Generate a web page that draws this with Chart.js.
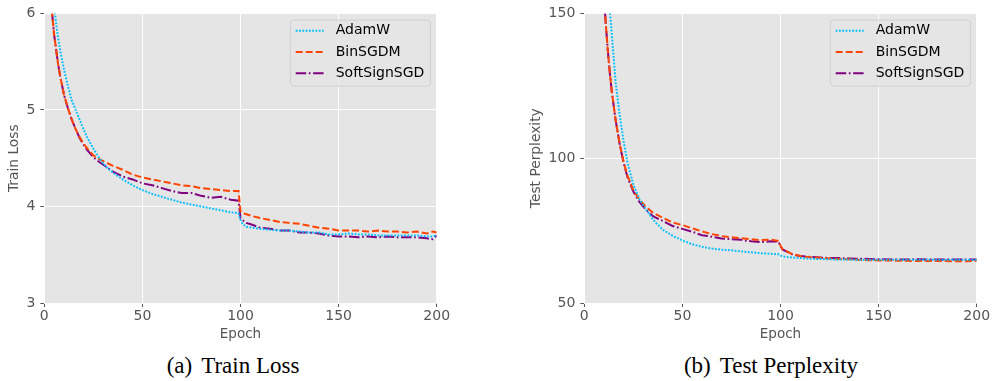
<!DOCTYPE html>
<html>
<head>
<meta charset="utf-8">
<script src="https://cdn.jsdelivr.net/npm/chart.js@4.4.0/dist/chart.umd.min.js"></script>
<style>
  body { margin: 0; background: #fff; width: 994px; height: 381px; position: relative; overflow: hidden; }
  canvas { position: absolute; top: 0; }
  #lossChart { left: 0; }
  #pplChart { left: 520px; }
  .caption { position: absolute; top: 353px; font-family: "Liberation Serif", serif; font-size: 23px; line-height: 26px; color: #000; text-align: center; white-space: nowrap; }
</style>
</head>
<body>
<canvas id="lossChart" width="460" height="345"></canvas>
<canvas id="pplChart" width="474" height="345"></canvas>
<div class="caption" style="left:133px;width:200px">(a)<span style="padding-left:9px">Train Loss</span></div>
<div class="caption" style="left:671px;width:200px">(b)<span style="padding-left:9px">Test Perplexity</span></div>
<script>
// ---- train loss (left panel)
var lossEpochs = [3,4,5,6,7,8,10,12,14,16,18,20,22,25,28,31,35,40,45,50,55,60,65,70,75,80,85,90,95,99,
  100,101,103,106,110,115,120,125,130,135,140,145,150,155,160,165,170,175,180,185,190,195,198,200];
var lossAdamW = [7.0,6.45,6.08,5.9,5.75,5.63,5.42,5.25,5.10,5.00,4.90,4.80,4.71,4.60,4.50,4.42,4.35,4.28,4.22,4.17,4.13,4.10,4.07,4.04,4.02,4.00,3.98,3.96,3.94,3.93,
  3.86,3.82,3.79,3.78,3.77,3.76,3.75,3.75,3.74,3.73,3.73,3.71,3.71,3.72,3.71,3.71,3.70,3.70,3.70,3.70,3.70,3.69,3.69,3.70];
var lossBinSGDM = [6.35,6.0,5.78,5.63,5.48,5.36,5.16,5.02,4.90,4.80,4.72,4.65,4.60,4.53,4.49,4.46,4.42,4.38,4.33,4.30,4.28,4.26,4.24,4.22,4.21,4.19,4.18,4.17,4.16,4.16,
  3.95,3.93,3.92,3.90,3.88,3.86,3.84,3.83,3.82,3.80,3.78,3.77,3.75,3.75,3.75,3.74,3.75,3.74,3.74,3.73,3.74,3.72,3.74,3.73];
var lossSoftSign = [6.35,6.0,5.78,5.63,5.48,5.36,5.16,5.02,4.90,4.80,4.71,4.64,4.58,4.51,4.46,4.42,4.36,4.31,4.28,4.24,4.22,4.19,4.16,4.14,4.14,4.11,4.09,4.10,4.07,4.06,
  3.88,3.86,3.83,3.81,3.78,3.77,3.75,3.75,3.73,3.73,3.72,3.70,3.69,3.69,3.68,3.69,3.68,3.69,3.68,3.68,3.68,3.67,3.66,3.70];

// ---- test perplexity (right panel)
var pplEpochs = [8,9,10,11,12,13,14,16,18,20,22,25,28,31,35,40,45,50,55,60,65,70,75,80,85,90,95,99,
  100,101,103,106,110,115,120,125,130,135,140,145,150,160,170,180,190,200];
var pplAdamW = [240,215,193,175,161,151,143,126,115,106,98.5,90.8,86,82.8,78.8,75.3,73.2,71.6,70.3,69.4,68.8,68.4,68.2,67.8,67.5,67.2,67.0,66.8,
  66.4,66.1,65.9,65.7,65.5,65.3,65.2,65.1,65.0,65.0,64.9,64.9,64.9,64.9,64.9,64.9,64.9,64.9];
var pplBinSGDM = [180,168,156,146,137,129.5,123,113,105,98.8,94,89,85.8,83.5,81.2,79.4,77.8,76.9,75.8,74.7,73.8,73.1,72.7,72.4,72.0,71.7,71.9,71.4,
  69.8,68.6,67.9,66.9,66.2,65.8,65.6,65.4,65.2,65.1,64.9,64.8,64.7,64.6,64.5,64.5,64.4,64.5];
var pplSoftSign = [180,168,156,146,137,129.5,123,113,105,98.5,93.5,88.5,85,82.5,80,78.3,76.6,75.6,74.6,73.4,72.9,72.3,72.0,71.8,71.3,71.0,71.3,71.2,
  69.6,68.5,67.8,66.8,66.2,65.9,65.7,65.5,65.5,65.4,65.3,65.2,65.1,65.0,65.1,65.0,65.0,65.0];

var lossTicks = [3, 4, 5, 6];
var pplTicks = [50, 100, 150];

var styles = [
  {label: 'AdamW', color: '#00BFFF', dash: [1.8, 1.5]},
  {label: 'BinSGDM', color: '#FF4500', dash: [7, 3]},
  {label: 'SoftSignSGD', color: '#800080', dash: [10.5, 2.6, 1.7, 2.6]}
];

var gray = '#555555';
var sans = '"DejaVu Sans", sans-serif';

var panelBg = {
  id: 'panelBg',
  beforeDraw: function(chart) {
    var a = chart.chartArea, ctx = chart.ctx;
    ctx.save();
    ctx.fillStyle = '#E5E5E5';
    ctx.fillRect(a.left, a.top, a.right - a.left, a.bottom - a.top);
    ctx.restore();
  }
};

var boxLegend = {
  id: 'boxLegend',
  afterDraw: function(chart) {
    var a = chart.chartArea, ctx = chart.ctx;
    var w = 140, h = 66;
    var x0 = a.right - 6.3 - w, y0 = a.top + 6.7;
    ctx.save();
    ctx.beginPath();
    ctx.roundRect(x0, y0, w, h, 3);
    ctx.fillStyle = 'rgba(229,229,229,0.8)';
    ctx.fill();
    ctx.lineWidth = 1;
    ctx.strokeStyle = 'rgba(204,204,204,0.8)';
    ctx.stroke();
    chart.data.datasets.forEach(function(ds, i) {
      var y = y0 + 10.6 + i * 21.3;
      ctx.strokeStyle = ds.borderColor;
      ctx.lineWidth = ds.borderWidth;
      ctx.setLineDash(ds.borderDash);
      ctx.beginPath();
      ctx.moveTo(x0 + 5.3, y);
      ctx.lineTo(x0 + 33.3, y);
      ctx.stroke();
      ctx.setLineDash([]);
      ctx.fillStyle = '#000';
      ctx.font = '14px ' + sans;
      ctx.textBaseline = 'middle';
      ctx.fillText(ds.label, x0 + 45.3, y);
    });
    ctx.restore();
  }
};

function makeChart(id, epochs, series, ticks, yTitle, axisW, titlePad, padRight) {
  var datasets = series.map(function(vals, k) {
    return {
      label: styles[k].label,
      data: epochs.map(function(e, i) { return {x: e, y: vals[i]}; }),
      borderColor: styles[k].color,
      borderWidth: 2,
      borderDash: styles[k].dash,
      pointRadius: 0,
      tension: 0,
      fill: false
    };
  });
  return new Chart(document.getElementById(id), {
    type: 'line',
    data: {datasets: datasets},
    options: {
      responsive: false,
      animation: false,
      layout: {padding: {top: 10, right: padRight, left: 0, bottom: 0}},
      plugins: {legend: {display: false}, tooltip: {enabled: false}},
      scales: {
        x: {
          type: 'linear', min: 0, max: 200,
          ticks: {stepSize: 50, color: gray, font: {family: sans, size: 14}, padding: 1, maxRotation: 0},
          grid: {color: '#ffffff', lineWidth: 1, tickColor: gray, tickLength: 4},
          border: {display: false},
          title: {display: true, text: 'Epoch', color: gray, font: {family: sans, size: 13.5}, padding: {top: 0, bottom: 2}},
          afterFit: function(s) { s.height = 42; }
        },
        y: {
          type: 'linear', min: ticks[0], max: ticks[ticks.length - 1],
          afterBuildTicks: function(s) { s.ticks = ticks.map(function(v) { return {value: v}; }); },
          ticks: {color: gray, font: {family: sans, size: 14}, padding: 5},
          grid: {color: '#ffffff', lineWidth: 1, tickColor: gray, tickLength: 4},
          border: {display: false},
          title: {display: true, text: yTitle, color: gray, font: {family: sans, size: 13.8}, padding: {top: titlePad, bottom: 0}},
          afterFit: function(s) { s.width = axisW; }
        }
      }
    },
    plugins: [panelBg, boxLegend]
  });
}

window.onload = function() {
  makeChart('lossChart', lossEpochs, [lossAdamW, lossBinSGDM, lossSoftSign], lossTicks, 'Train Loss', 44.3, 5.8, 23.3);
  makeChart('pplChart', pplEpochs, [pplAdamW, pplBinSGDM, pplSoftSign], pplTicks, 'Test Perplexity', 64.3, 8.5, 17.3);
};
</script>
</body>
</html>
